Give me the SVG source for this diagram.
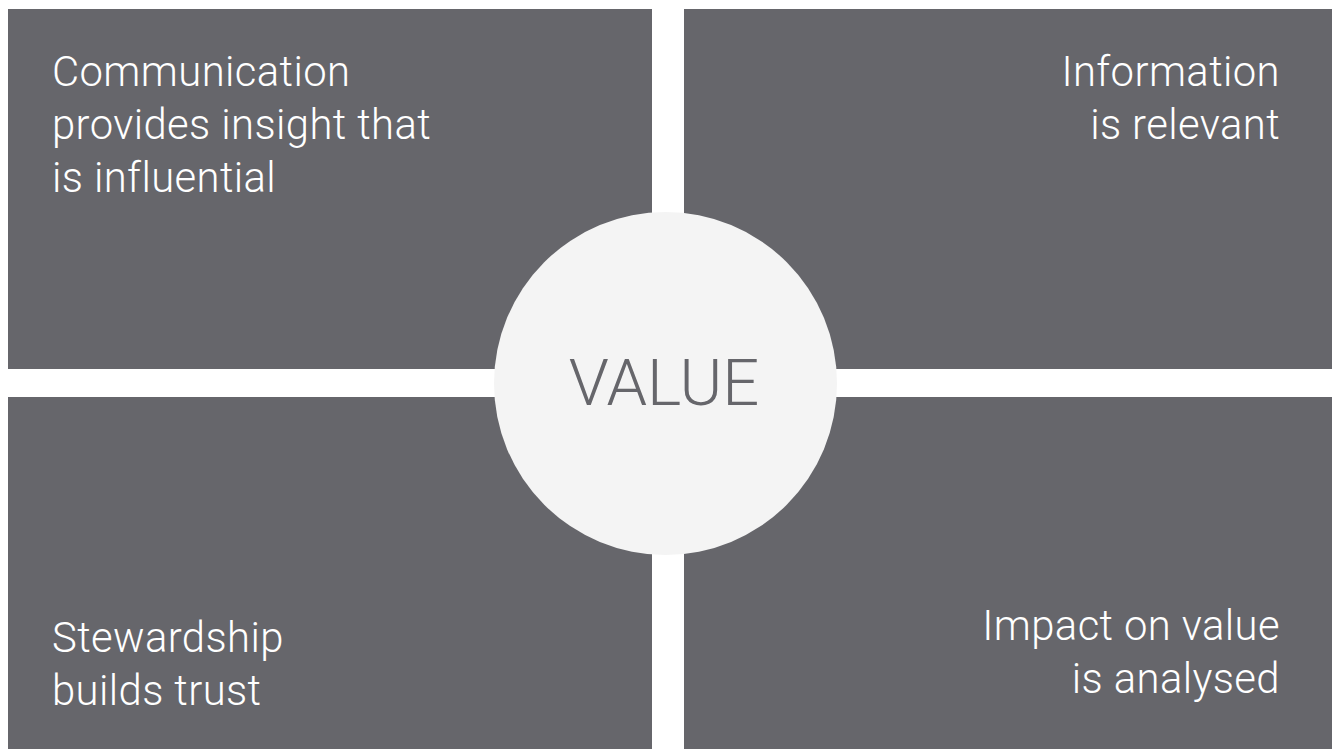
<svg xmlns="http://www.w3.org/2000/svg" width="1332" height="749" viewBox="0 0 1332 749">
<style>
.q{fill:#66666b}
.t{font-family:Roboto,"Liberation Sans",sans-serif;font-weight:300;font-size:41.8px;letter-spacing:0.4px;fill:#ffffff}
.r{text-anchor:end}
</style>
<rect width="1332" height="749" fill="#ffffff"/>
<g id="q-tl"><rect class="q" x="8" y="9" width="644" height="360"/>
<text class="t" x="52" y="86">Communication</text>
<text class="t" x="52" y="139">provides insight that</text>
<text class="t" x="52" y="192">is influential</text></g>
<g id="q-tr"><rect class="q" x="684" y="9" width="648" height="360"/>
<text class="t r" x="1280" y="86">Information</text>
<text class="t r" x="1280" y="139">is relevant</text></g>
<g id="q-bl"><rect class="q" x="8" y="397" width="644" height="352"/>
<text class="t" x="52" y="652">Stewardship</text>
<text class="t" x="52" y="705">builds trust</text></g>
<g id="q-br"><rect class="q" x="684" y="397" width="648" height="352"/>
<text class="t r" x="1280" y="640">Impact on value</text>
<text class="t r" x="1280" y="693">is analysed</text></g>
<g id="center"><circle cx="665.5" cy="383.5" r="171.5" fill="#f4f4f4"/>
<text x="664" y="405" text-anchor="middle" font-family="Roboto,'Liberation Sans',sans-serif" font-weight="300" font-size="65" fill="#66666b">VALUE</text></g>
</svg>
